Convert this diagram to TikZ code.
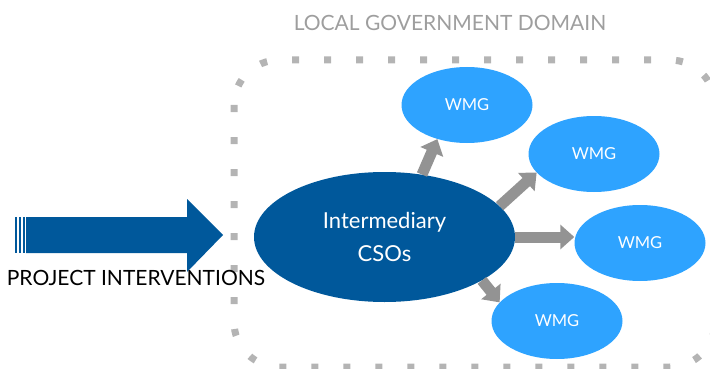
\documentclass[tikz,border=0pt]{standalone}
\usepackage{fontspec}
\setmainfont{Lato}
\usetikzlibrary{shapes.geometric,arrows.meta}
\definecolor{csoblue}{HTML}{00589B}
\definecolor{wmgblue}{HTML}{2EA3FF}
\definecolor{linkgray}{HTML}{939393}
\definecolor{dotgray}{HTML}{B4B4B4}
\definecolor{titlegray}{HTML}{9E9E9E}
\begin{document}
\begin{tikzpicture}[x=1pt,y=-1pt,
  wmg/.style={ellipse, fill=wmgblue, minimum width=131pt, minimum height=76pt,
    inner sep=0pt, text=white, font=\fontsize{16.5}{19}\selectfont},
  link/.style={draw=linkgray, line width=11pt, -{Triangle[width=24pt,length=14pt]}},
  govborder/.style={dotgray, line width=7pt, dash pattern=on 7pt off 25pt, rounded corners=45pt},
]
\useasboundingbox (0,0) rectangle (710,369);

% domain title and dotted boundary
\node[text=titlegray, font=\fontsize{21}{24}\selectfont, anchor=base] (title) at (450,31) {LOCAL GOVERNMENT DOMAIN};
\draw[govborder] (234,60) rectangle (715,367);

% incoming project arrow with striped tail
\fill[csoblue] (26,217) -- (187,217) -- (187,199) -- (223,235) -- (187,272) -- (187,253) -- (26,253) -- cycle;
\fill[csoblue] (15,217) rectangle (17,253);
\fill[csoblue] (19,217) rectangle (21,253);
\fill[csoblue] (22.5,217) rectangle (25,253);
\node[font=\fontsize{21}{24}\selectfont, anchor=base] (proj) at (136,285) {PROJECT INTERVENTIONS};

% intermediary organisations and the groups they support
\node[ellipse, fill=csoblue, minimum width=261pt, minimum height=130pt, inner sep=0pt,
  text=white, align=center, font=\fontsize{22}{33}\selectfont] (csos) at (384.5,237) {Intermediary\\CSOs};
\node[wmg] (w1) at (467,105) {WMG};
\node[wmg] (w2) at (594,154) {WMG};
\node[wmg] (w3) at (640,243) {WMG};
\node[wmg] (w4) at (557,321) {WMG};

% links
\draw[link] (csos.59) -- (w1.229);
\draw[link] (csos.15.6) -- (w2.198);
\draw[link] (csos.east) -- (csos.east -| w3.west);
\draw[link] (csos.-24) -- (w4.162.5);
\end{tikzpicture}
\end{document}
